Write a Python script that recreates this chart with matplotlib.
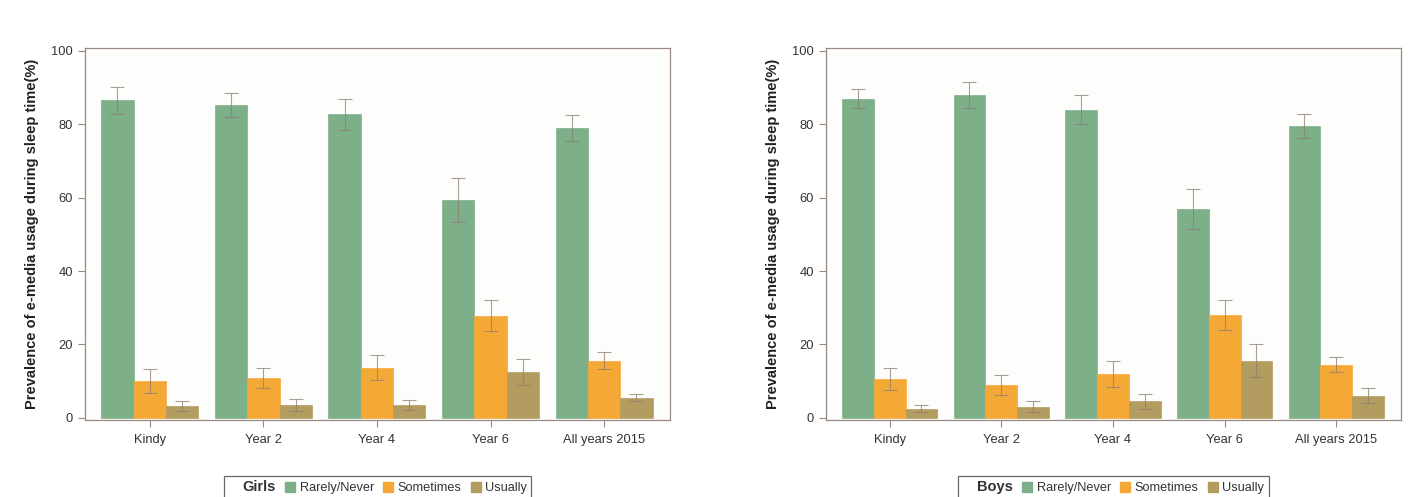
import numpy as np
import matplotlib.pyplot as plt
from matplotlib.patches import Rectangle
from matplotlib.lines import Line2D

plt.rcParams['font.family'] = ['Liberation Sans', 'DejaVu Sans']

groups = ['Kindy', 'Year 2', 'Year 4', 'Year 6', 'All years 2015']
series = ['Rarely/Never', 'Sometimes', 'Usually']
colors = ['#7daf89', '#f4a937', '#b29c60']

# girls: values and upper CI
girls_rare = [86.5, 85.3, 82.7, 59.5, 79.0]
girls_some = [10.0, 10.8, 13.7, 27.8, 15.5]
girls_usu = [3.2, 3.5, 3.5, 12.5, 5.5]
girls_rare_hi = [90.2, 88.5, 87.0, 65.5, 82.5]
girls_some_hi = [13.3, 13.5, 17.0, 32.0, 17.8]
girls_usu_hi = [4.6, 5.2, 4.8, 16.0, 6.5]

# boys
boys_rare = [87.0, 88.0, 84.0, 57.0, 79.5]
boys_some = [10.5, 9.0, 12.0, 28.0, 14.5]
boys_usu = [2.5, 3.0, 4.5, 15.5, 6.0]
boys_rare_hi = [89.5, 91.5, 88.0, 62.5, 82.8]
boys_some_hi = [13.5, 11.8, 15.5, 32.0, 16.5]
boys_usu_hi = [3.5, 4.5, 6.5, 20.0, 8.0]

fig = plt.figure(figsize=(14.16, 4.97), dpi=100)
fig.patch.set_facecolor('white')

spine_col = '#9a8a82'
err_col = '#8f7f70'


def panel(ax, vals, his, title):
    x = np.arange(len(groups))
    w = 0.285
    for i, (v, hi) in enumerate(zip(vals, his)):
        v = np.array(v)
        hi = np.array(hi)
        pos = x + (i - 1) * w
        ax.bar(pos, v, width=w, color=colors[i], edgecolor=colors[i], lw=0.5, zorder=2)
        lo = v - (hi - v)
        ax.errorbar(pos, v, yerr=[v - lo, hi - v], fmt='none', ecolor=err_col,
                    elinewidth=0.8, capsize=5, capthick=0.8, alpha=0.75, zorder=3)
    ax.set_xlim(-0.57, 4.58)
    ax.set_ylim(-0.6, 100.8)
    ax.set_xticks(x)
    ax.set_xticklabels(groups)
    ax.set_yticks([0, 20, 40, 60, 80, 100])
    ax.tick_params(axis='both', direction='out', length=5, width=0.8,
                   color=spine_col, labelsize=9.3, labelcolor='#333333')
    ax.tick_params(axis='x', pad=5)
    ax.set_ylabel('Prevalence of e-media usage during sleep time(%)',
                  fontsize=10.5, fontweight='bold', color='#222222', labelpad=9)
    ax.set_facecolor('#fdfdfb')
    for s in ax.spines.values():
        s.set_color(spine_col)
        s.set_linewidth(0.9)

    handles = [Rectangle((0, 0), 1, 1, fc='none', ec='none')]
    handles += [Line2D([], [], marker='s', ls='none', ms=7, color=c) for c in colors]
    leg = ax.legend(handles, [title] + series, ncol=4, loc='upper center',
                    bbox_to_anchor=(0.5, -0.14), frameon=True, fancybox=False,
                    edgecolor='#444444', fontsize=9.2, handlelength=0.8,
                    handletextpad=0.35, columnspacing=0.7, borderpad=0.35,
                    borderaxespad=0.3)
    leg.get_frame().set_linewidth(0.9)
    t = leg.get_texts()
    t[0].set_fontweight('bold')
    t[0].set_fontsize(10.5)
    for tt in t:
        tt.set_color('#333333')


ax1 = fig.add_axes([85 / 1416, 1 - 420 / 497, (670 - 85) / 1416, (420 - 48) / 497])
ax2 = fig.add_axes([826 / 1416, 1 - 420 / 497, (1401 - 826) / 1416, (420 - 48) / 497])

panel(ax1, [girls_rare, girls_some, girls_usu],
      [girls_rare_hi, girls_some_hi, girls_usu_hi], 'Girls')
panel(ax2, [boys_rare, boys_some, boys_usu],
      [boys_rare_hi, boys_some_hi, boys_usu_hi], 'Boys')

fig.savefig('out.png', dpi=100)
